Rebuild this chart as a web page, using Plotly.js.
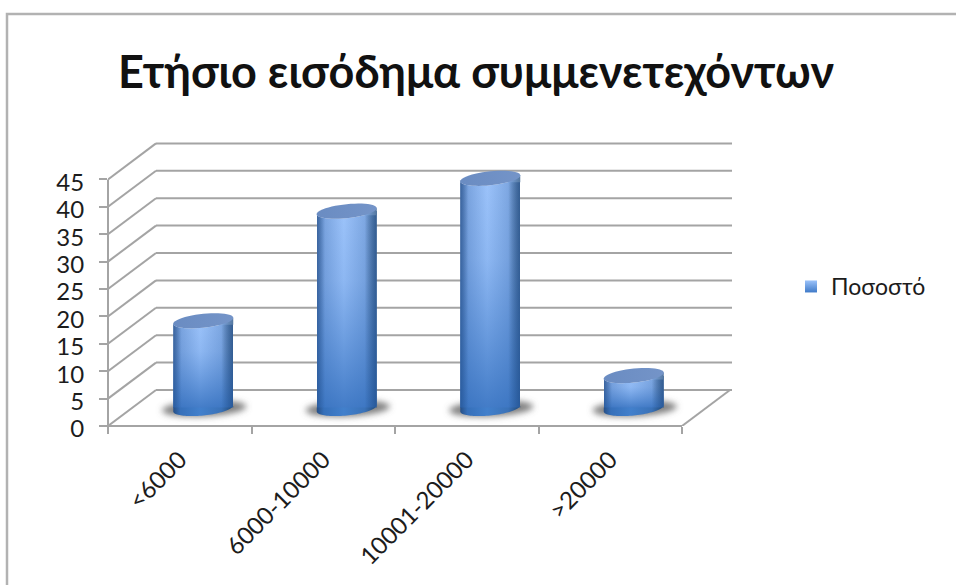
<!DOCTYPE html>
<html><head><meta charset="utf-8">
<script src="https://cdn.plot.ly/plotly-3.0.1.min.js"></script>
<style>html,body{margin:0;padding:0;background:#fff;overflow:hidden}#chart{width:956px;height:585px}</style>
</head><body><div id="chart"></div>
<script>
const chartTitle = "Ετήσιο εισόδημα συμμενετεχόντων";
const seriesName = "Ποσοστό";
const categories = ["<6000", "6000-10000", "10001-20000", ">20000"];
const values = [16, 36, 42, 6];
const yTicks = [0, 5, 10, 15, 20, 25, 30, 35, 40, 45];

// scale: pixels per axis unit, and the oblique depth of the 3D box
const W = 956, H = 585, L = 108, R = 732, T = 142, B = 426;
const ux = 143.5, uy = 5.48;
const depthX = 48 / ux, depthY = 36 / uy;
const barX = 23.5 / ux, barBase = 3.2, barW = 60 / ux;
const GRID = "#a4a4a4", FONT = "Lato, 'Open Sans', 'Noto Sans', sans-serif";

const centers = categories.map((c, i) => i + 0.5 + barX);
const px = f => (f - L) / (R - L), py = f => (B - f) / (B - T);

function ell(c, v, from, to, a, b, tilt) {
  const pts = [];
  for (let k = 0; k <= 48; k++) {
    const t = from + (to - from) * k / 48;
    pts.push([c + a * Math.cos(t) / ux, v - (-tilt * Math.cos(t) + b * Math.sin(t)) / uy]);
  }
  return pts;
}
const toPath = p => "M" + p.map(q => q[0].toFixed(4) + "," + q[1].toFixed(4)).join("L") + "Z";

const shapes = [], role = {cap: [], topPatch: [], botPatch: [], shadow: []};
const ln = (o) => shapes.push(Object.assign({type: "line", layer: "below", line: {color: GRID, width: 2}}, o));
// back wall, left wall
yTicks.forEach(v => {
  ln({xref: "x", yref: "y", x0: depthX, x1: (R - L) / ux, y0: v + depthY, y1: v + depthY});
  ln({xref: "x", yref: "y", x0: 0, x1: depthX, y0: v, y1: v + depthY});
});
// floor
ln({xref: "x", yref: "y", x0: categories.length, x1: categories.length + depthX, y0: 0, y1: depthY});
// axis lines (paper: not clipped)
ln({xref: "paper", yref: "paper", x0: 0, x1: px(L + categories.length * ux), y0: 0, y1: 0});
ln({xref: "paper", yref: "paper", x0: 0, x1: 0, y0: -0.012, y1: 45 * uy / (B - T)});
// chart frame: left and top only
shapes.push({type: "path", xref: "paper", yref: "paper", layer: "below",
  path: `M${px(7)},${py(590)}L${px(7)},${py(14)}L${px(960)},${py(14)}`, line: {color: "#b2b2b2", width: 2.5}});

const A = 30, Bb = 7, Tilt = 3;
centers.forEach((c, i) => {
  role.shadow.push(shapes.length);
  shapes.push({type: "path", xref: "x", yref: "y", layer: "below", line: {width: 0}, fillcolor: "#6a6a6a",
    path: toPath(ell(c + 1 / ux, barBase, 0, 2 * Math.PI, 42, 8, 2))});
});
centers.forEach((c, i) => {
  const top = barBase + values[i];
  role.topPatch.push(shapes.length);
  shapes.push({type: "path", xref: "x", yref: "y", layer: "above", line: {width: 0}, fillcolor: "#7aa5e0",
    path: toPath([[c - A / ux, top - (Tilt + 1) / uy], [c - A / ux, top - Tilt / uy], [c + A / ux, top + Tilt / uy], [c + A / ux, top - (Tilt + 1) / uy]])});
  role.botPatch.push(shapes.length);
  shapes.push({type: "path", xref: "x", yref: "y", layer: "above", line: {width: 0}, fillcolor: "#3f77c0",
    path: toPath(ell(c, barBase, 0, Math.PI, A, Bb, Tilt).concat([[c - A / ux, barBase + 1 / uy], [c + A / ux, barBase + 1 / uy]]))});
  role.cap.push(shapes.length);
  shapes.push({type: "path", xref: "x", yref: "y", layer: "above", line: {width: 0}, fillcolor: "#7193c8",
    path: toPath(ell(c, top, 0, 2 * Math.PI, A, Bb, Tilt))});
});

const bases = categories.map(() => barBase);
const barMain = {type: "bar", name: seriesName, x: centers, y: values, base: bases,
  width: barW, marker: {color: "#6f9fe0", line: {width: 0}}, hoverinfo: "y"};
const barShadeV = {type: "bar", name: seriesName, showlegend: false, x: centers, y: values, base: bases,
  width: barW, marker: {color: "rgba(40,100,190,0.5)", line: {width: 0}}, hoverinfo: "skip"};
const barShadeH = {type: "bar", name: seriesName, showlegend: false, x: centers, y: values, base: bases,
  width: barW, marker: {color: "rgba(30,70,130,0.2)", line: {width: 0}}, hoverinfo: "skip"};

const layout = {
  width: W, height: H, paper_bgcolor: "#fff", plot_bgcolor: "rgba(0,0,0,0)", barmode: "overlay", bargap: 0,
  margin: {l: L, r: W - R, t: T, b: H - B, pad: 0},
  font: {family: FONT, color: "#1c1c1c", size: 22},
  title: {text: "<b>" + chartTitle + "</b>", font: {family: FONT, size: 45, color: "#111"},
    x: 476 / W, xanchor: "center", xref: "container", y: 1 - 72 / H, yanchor: "middle"},
  xaxis: {range: [0, (R - L) / ux], showgrid: false, zeroline: false, showline: false,
    tickmode: "array", tickvals: categories.map((c, i) => i + 0.5), ticktext: categories, ticks: "", tickangle: -45,
    ticklabelstandoff: 14, tickfont: {size: 24},
    minor: {tickmode: "array", tickvals: categories.map((c, i) => i).concat(categories.length), ticks: "outside", ticklen: 7, tickwidth: 2, tickcolor: GRID, showgrid: false}},
  yaxis: {range: [0, (B - T) / uy], showgrid: false, zeroline: false, showline: false,
    tickmode: "array", tickvals: yTicks, ticks: "outside", ticklen: 8, tickwidth: 2, tickcolor: GRID, ticklabelstandoff: 10, tickfont: {size: 24}},
  legend: {x: px(791), y: py(265), xanchor: "left", yanchor: "top", font: {size: 23}, bgcolor: "rgba(0,0,0,0)", itemsizing: "constant"},
  showlegend: true,
  shapes
};

Plotly.newPlot("chart", [barMain, barShadeV, barShadeH], layout, {displayModeBar: false, staticPlot: true}).then(gd => {
  const svg = gd.querySelector("svg.main-svg");
  const NS = "http://www.w3.org/2000/svg";
  const defs = svg.querySelector("defs");
  const grad = (id, dir, stops) => {
    const g = document.createElementNS(NS, "linearGradient");
    g.id = id;
    g.setAttribute("x1", 0); g.setAttribute("y1", 0);
    g.setAttribute("x2", dir === "h" ? 1 : 0); g.setAttribute("y2", dir === "h" ? 0 : 1);
    stops.forEach(s => {
      const e = document.createElementNS(NS, "stop");
      e.setAttribute("offset", s[0]); e.setAttribute("stop-color", s[1]);
      if (s[2] !== undefined) e.setAttribute("stop-opacity", s[2]);
      g.appendChild(e);
    });
    defs.appendChild(g);
  };
  grad("hTop", "h", [[0, "#5d83bb"], [0.12, "#7aa3de"], [0.45, "#9cc3fa"], [0.8, "#7fa8e2"], [1, "#54779f"]]);
  grad("hBot", "h", [[0, "#264f86"], [0.12, "#3670ba"], [0.45, "#4280cc"], [0.8, "#3a72b8"], [1, "#214a78"]]);
  grad("vOver", "v", [[0, "#3c78c8", 0], [0.35, "#3c78c8", 0.15], [1, "#2f6cbc", 0.82]]);
  grad("hEdge", "h", [[0, "#1d4a86", 0.55], [0.14, "#1d4a86", 0], [0.8, "#1d4a86", 0], [1, "#1d4a86", 0.6]]);
  grad("capG", "h", [[0, "#6a8cc2"], [1, "#7494c8"]]);
  grad("leg", "v", [[0, "#9cc3fa"], [1, "#3f7ac8"]]);
  const f = document.createElementNS(NS, "filter");
  f.id = "soft"; ["x", "y"].forEach(k => f.setAttribute(k, "-40%"));
  f.setAttribute("width", "180%"); f.setAttribute("height", "180%");
  const b = document.createElementNS(NS, "feGaussianBlur"); b.setAttribute("stdDeviation", "3");
  f.appendChild(b); defs.appendChild(f);

  const shp = i => gd.querySelector(`.shapelayer path[data-index="${i}"]`);
  role.shadow.forEach(i => { const p = shp(i); p.style.filter = "url(#soft)"; p.style.fillOpacity = 0.85; });
  role.topPatch.forEach(i => shp(i).style.fill = "url(#hTop)");
  role.botPatch.forEach(i => shp(i).style.fill = "url(#hBot)");
  role.cap.forEach(i => shp(i).style.fill = "url(#capG)");

  const fills = ["url(#hTop)", "url(#vOver)", "url(#hEdge)"];
  gd.querySelectorAll(".barlayer .trace").forEach((tr, k) => {
    tr.querySelectorAll(".point path").forEach((p, i) => {
      p.style.fill = fills[k];
      p.style.fillOpacity = 1;
      // trim the square corners so the side follows the tilted ends
      const bb = p.getBBox(), cx = bb.x + bb.width / 2, t = bb.y, bt = bb.y + bb.height;
      const cp = document.createElementNS(NS, "clipPath");
      cp.id = "cyl" + k + "_" + i;
      const poly = document.createElementNS(NS, "polygon");
      const pts = [];
      for (let n = 0; n <= 24; n++) { const a = Math.PI * n / 24; pts.push([cx + A * Math.cos(a), t - Tilt * Math.cos(a) + Bb * Math.sin(a)]); }
      for (let n = 0; n <= 24; n++) { const a = Math.PI - Math.PI * n / 24; pts.push([cx + A * Math.cos(a), bt - Tilt * Math.cos(a) + Bb * Math.sin(a)]); }
      poly.setAttribute("points", pts.map(q => q.join(",")).join(" "));
      cp.appendChild(poly); defs.appendChild(cp);
      p.setAttribute("clip-path", `url(#${cp.id})`);
    });
  });
  gd.querySelectorAll(".legendpoints path").forEach(p => { p.style.fill = "url(#leg)"; });
  gd.querySelectorAll(".ytick text").forEach(t => t.setAttribute("y", +t.getAttribute("y") + 3));
});
</script></body></html>
